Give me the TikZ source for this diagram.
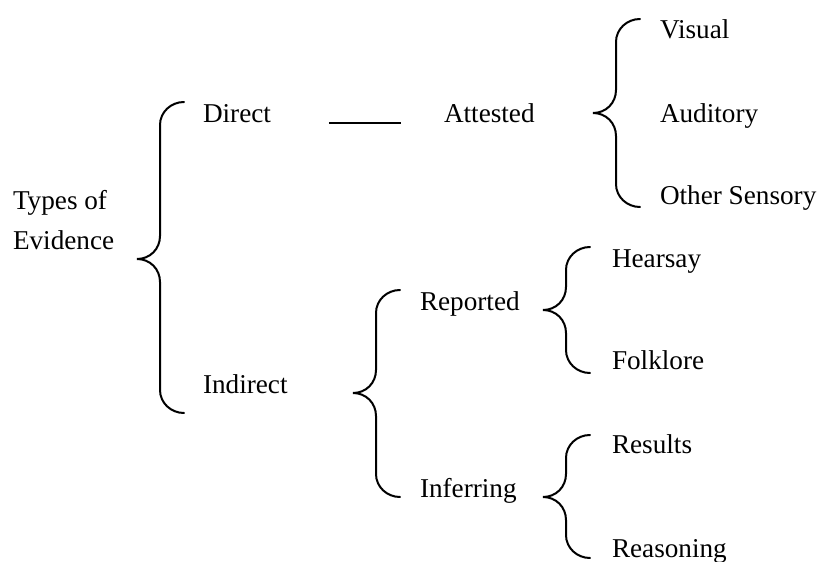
\documentclass[tikz,border=0pt]{standalone}
\usepackage{fontspec}
\setmainfont{Liberation Serif}
\usetikzlibrary{positioning, calc}

% curly brace: tip x, tip y, top y, bottom y (pixel units)
\newcommand{\evbrace}[4]{%
  \draw[brace] (#1+47,#3) .. controls (#1+34,#3) and (#1+23,#3+10) .. (#1+23,#3+23)
    -- (#1+23,#2-23) .. controls (#1+23,#2-10) and (#1+13,#2) .. (#1,#2)
    .. controls (#1+13,#2) and (#1+23,#2+10) .. (#1+23,#2+23)
    -- (#1+23,#4-23) .. controls (#1+23,#4-10) and (#1+34,#4) .. (#1+47,#4);}

\begin{document}
\begin{tikzpicture}[x=0.5pt, y=-0.5pt,
    font=\fontsize{13.6}{20}\selectfont,
    lbl/.style={anchor=base west, inner sep=0pt, outer sep=0pt},
    brace/.style={line width=1pt, line cap=round}]
  \useasboundingbox (0,0) rectangle (821,562);
  % root
  \node[lbl, align=left] (types) at (13,249) {Types of\\Evidence};
  % first level
  \node[lbl] (direct)   at (203,122) {Direct};
  \node[lbl] (indirect) at (203,393) {Indirect};
  % direct branch
  \node[lbl] (attested) at (444,122) {Attested};
  \node[lbl] (visual)   at (660,39)  {Visual};
  \node[lbl] (auditory) at (660,122) {Auditory};
  \node[lbl] (othersns) at (660,204) {Other Sensory};
  % indirect branch
  \node[lbl] (reported)  at (420,310) {Reported};
  \node[lbl] (inferring) at (420,497) {Inferring};
  \node[lbl] (hearsay)   at (612,267) {Hearsay};
  \node[lbl] (folklore)  at (612,369) {Folklore};
  \node[lbl] (results)   at (612,453) {Results};
  \node[lbl] (reasoning) at (612,557) {Reasoning};
  % connectors
  \draw[line width=1pt, shorten <=29pt, shorten >=21.5pt]
    ([yshift=-0.4pt]direct.base east) -- ([yshift=-0.4pt]attested.base west);
  \evbrace{137}{259}{102}{413}
  \evbrace{593}{113}{19}{207}
  \evbrace{353}{393}{290}{497}
  \evbrace{543}{310}{247}{373}
  \evbrace{543}{497}{435}{558}
\end{tikzpicture}
\end{document}
